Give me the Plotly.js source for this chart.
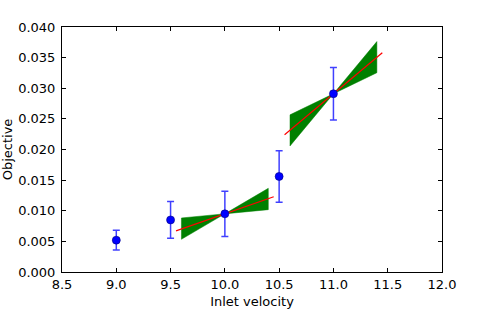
<!DOCTYPE html>
<html>
<head>
<meta charset="utf-8">
<script src="https://cdn.plot.ly/plotly-3.0.1.min.js"></script>
<style>
    body { margin: 0; padding: 0; background: #fff; }
    #chart { width: 479px; height: 322px; }
</style>
</head>
<body>
<div id="chart"></div>
<script>
// measured points with error bars
var velocity = [9.0, 9.5, 10.0, 10.5, 11.0];
var objective = [0.0052, 0.0085, 0.0095, 0.0156, 0.0291];
var objErr = [0.0016, 0.0030, 0.0037, 0.0042, 0.0043];

// local gradient fits: centre, mean slope, slope range
var fitX = [10.0, 11.0];
var fitY = [0.0095, 0.0291];
var fitSlope = [0.0062, 0.0149];
var slopeLow = [0.0017, 0.0086];
var slopeHigh = [0.0104, 0.0213];
var lineHalf = 0.45;
var fillHalf = 0.4;

var traces = [];

for (var i = 0; i < fitX.length; i++) {
    var x0 = fitX[i], y0 = fitY[i], w = fillHalf;
    // bowtie between the low and high slope lines
    traces.push({
        x: [x0 - w, x0, x0 + w, x0 + w, x0, x0 - w, x0 - w],
        y: [y0 - w * slopeLow[i], y0, y0 + w * slopeLow[i], y0 + w * slopeHigh[i],
            y0, y0 - w * slopeHigh[i], y0 - w * slopeLow[i]],
        mode: "lines",
        fill: "toself",
        fillcolor: "#008000",
        line: { color: "#008000", width: 0.5 },
        hoverinfo: "skip"
    });
    traces.push({
        x: [x0 - lineHalf, x0 + lineHalf],
        y: [y0 - lineHalf * fitSlope[i], y0 + lineHalf * fitSlope[i]],
        mode: "lines",
        line: { color: "#ff0000", width: 1.2 }
    });
}

traces.push({
    x: velocity,
    y: objective,
    mode: "markers",
    marker: { color: "#0000ff", size: 8, line: { color: "#000080", width: 0.6 } },
    error_y: {
        type: "data",
        array: objErr,
        visible: true,
        color: "rgba(0,0,255,0.75)",
        thickness: 1.5,
        width: 3.5
    }
});

var axisFont = { family: "DejaVu Sans", size: 13, color: "#000" };

var layout = {
    width: 479,
    height: 322,
    margin: { l: 62, r: 37, t: 27, b: 50 },
    showlegend: false,
    paper_bgcolor: "#fff",
    plot_bgcolor: "#fff",
    font: axisFont,
    xaxis: {
        range: [8.5, 12.0],
        tickvals: [8.5, 9.0, 9.5, 10.0, 10.5, 11.0, 11.5, 12.0],
        ticktext: ["8.5", "9.0", "9.5", "10.0", "10.5", "11.0", "11.5", "12.0"],
        ticks: "inside",
        ticklen: 4,
        tickcolor: "#000",
        showline: true,
        linecolor: "#000",
        linewidth: 1,
        mirror: "ticks",
        showgrid: false,
        zeroline: false,
        tickfont: axisFont,
        title: { text: "Inlet velocity", font: axisFont, standoff: 6 }
    },
    yaxis: {
        range: [0, 0.04],
        tickvals: [0, 0.005, 0.01, 0.015, 0.02, 0.025, 0.03, 0.035, 0.04],
        ticktext: ["0.000", "0.005", "0.010", "0.015", "0.020", "0.025", "0.030", "0.035", "0.040"],
        ticks: "inside",
        ticklen: 4,
        ticklabelstandoff: 3,
        tickcolor: "#000",
        showline: true,
        linecolor: "#000",
        linewidth: 1,
        mirror: "ticks",
        showgrid: false,
        zeroline: false,
        tickfont: axisFont,
        title: { text: "Objective", font: axisFont, standoff: 4 }
    }
};

Plotly.newPlot("chart", traces, layout, { displayModeBar: false, staticPlot: true });
</script>
</body>
</html>
